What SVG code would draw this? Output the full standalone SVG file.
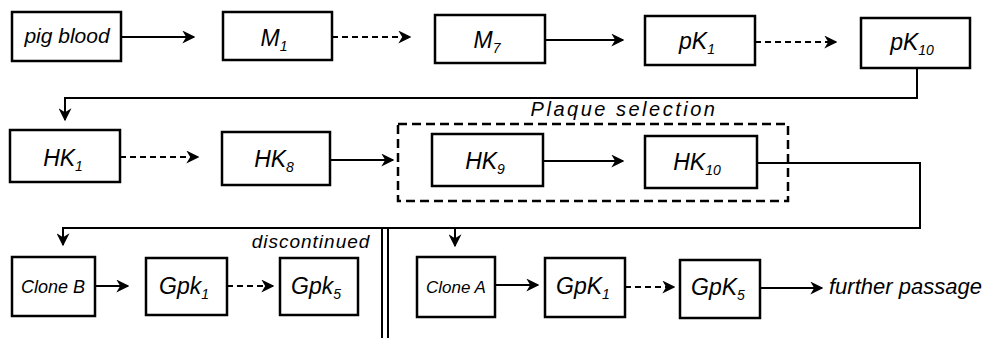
<svg xmlns="http://www.w3.org/2000/svg" width="995" height="338" viewBox="0 0 995 338">
<style>
.box{fill:#fff;stroke:#000;stroke-width:2.5}
.t{font-family:"Liberation Sans",Arial,sans-serif;font-style:italic;fill:#000;text-anchor:middle}
.big{font-size:23px}
.ln{fill:none;stroke:#000;stroke-width:2}
.dash{stroke-dasharray:6 4}
.sub{font-size:14px}
</style>
<defs>
<marker id="ah" viewBox="0 0 10 10" refX="9" refY="5" markerWidth="6.5" markerHeight="6.5" markerUnits="strokeWidth" orient="auto">
<path d="M0,0 L10,5 L0,10 L3,5 Z" fill="#000"/>
</marker>
</defs>
<rect width="995" height="338" fill="#fff"/>

<g id="connectors">
<line class="ln" x1="121" y1="37" x2="194" y2="37" marker-end="url(#ah)"/>
<line class="ln dash" x1="332" y1="37" x2="410" y2="37" marker-end="url(#ah)"/>
<line class="ln" x1="545" y1="40" x2="623" y2="40" marker-end="url(#ah)"/>
<line class="ln dash" x1="755" y1="42" x2="836" y2="42" marker-end="url(#ah)"/>
<polyline class="ln" points="917,68 917,98 65,98 65,120" marker-end="url(#ah)"/>
<line class="ln dash" x1="120" y1="157" x2="198" y2="157" marker-end="url(#ah)"/>
<line class="ln" x1="330" y1="160" x2="393" y2="160" marker-end="url(#ah)"/>
<line class="ln" x1="543" y1="161" x2="623" y2="161" marker-end="url(#ah)"/>
<polyline class="ln" points="757,163 920,163 920,228 63,228 63,245" marker-end="url(#ah)"/>
<line class="ln" x1="455" y1="228" x2="455" y2="246" marker-end="url(#ah)"/>
<line class="ln" x1="95" y1="286" x2="128" y2="286" marker-end="url(#ah)"/>
<line class="ln dash" x1="227" y1="286" x2="273" y2="286" marker-end="url(#ah)"/>
<line class="ln" x1="495" y1="285" x2="538" y2="285" marker-end="url(#ah)"/>
<line class="ln dash" x1="625" y1="287" x2="674" y2="287" marker-end="url(#ah)"/>
<line class="ln" x1="760" y1="288" x2="822" y2="288" marker-end="url(#ah)"/>
<line class="ln" x1="382" y1="228" x2="382" y2="338"/>
<line class="ln" x1="388" y1="228" x2="388" y2="338"/>
</g>

<g id="pig-blood"><rect class="box" x="12" y="12" width="109" height="49"/><text class="t" x="67" y="43" style="font-size:21px">pig blood</text></g>
<g id="M1"><rect class="box" x="223" y="12" width="109" height="48"/><text class="t big" x="274" y="46">M<tspan class="sub" dy="5">1</tspan></text></g>
<g id="M7"><rect class="box" x="435" y="15" width="110" height="48"/><text class="t big" x="487" y="48">M<tspan class="sub" dy="5">7</tspan></text></g>
<g id="pK1"><rect class="box" x="645" y="16" width="110" height="49"/><text class="t big" x="697" y="49">pK<tspan class="sub" dy="5">1</tspan></text></g>
<g id="pK10"><rect class="box" x="861" y="18" width="109" height="50"/><text class="t big" x="912" y="50">pK<tspan class="sub" dy="5">10</tspan></text></g>

<g id="HK1"><rect class="box" x="10" y="130" width="110" height="52"/><text class="t big" x="63" y="166">HK<tspan class="sub" dy="5">1</tspan></text></g>
<g id="HK8"><rect class="box" x="222" y="132" width="108" height="53"/><text class="t big" x="274" y="167">HK<tspan class="sub" dy="5">8</tspan></text></g>
<g id="plaque-selection"><rect x="398" y="124" width="390" height="77" fill="none" stroke="#000" stroke-width="2.5" stroke-dasharray="9 5"/><text class="t" x="624" y="116" style="font-size:20px;letter-spacing:2.5px">Plaque selection</text></g>
<g id="HK9"><rect class="box" x="432" y="134" width="111" height="52"/><text class="t big" x="485" y="169">HK<tspan class="sub" dy="5">9</tspan></text></g>
<g id="HK10"><rect class="box" x="645" y="136" width="112" height="52"/><text class="t big" x="697" y="170">HK<tspan class="sub" dy="5">10</tspan></text></g>

<g id="clone-B"><rect class="box" x="12" y="257" width="83" height="59"/><text class="t" x="53" y="293" style="font-size:18px">Clone B</text></g>
<g id="Gpk1-B"><rect class="box" x="146" y="258" width="81" height="57"/><text class="t big" x="184" y="294">Gpk<tspan class="sub" dy="5">1</tspan></text></g>
<g id="Gpk5-B"><rect class="box" x="280" y="258" width="78" height="57"/><text class="t big" x="316" y="294">Gpk<tspan class="sub" dy="5">5</tspan></text></g>
<g id="discontinued"><text class="t" x="311" y="248" style="font-size:19px;letter-spacing:1px">discontinued</text></g>

<g id="clone-A"><rect class="box" x="417" y="257" width="78" height="60"/><text class="t" x="456" y="293" style="font-size:17px">Clone A</text></g>
<g id="GpK1-A"><rect class="box" x="545" y="258" width="80" height="59"/><text class="t big" x="583" y="294">GpK<tspan class="sub" dy="5">1</tspan></text></g>
<g id="GpK5-A"><rect class="box" x="680" y="260" width="80" height="58"/><text class="t big" x="718" y="295">GpK<tspan class="sub" dy="5">5</tspan></text></g>
<g id="further-passage"><text class="t" x="829" y="294" style="font-size:22px;text-anchor:start">further passage</text></g>
</svg>
